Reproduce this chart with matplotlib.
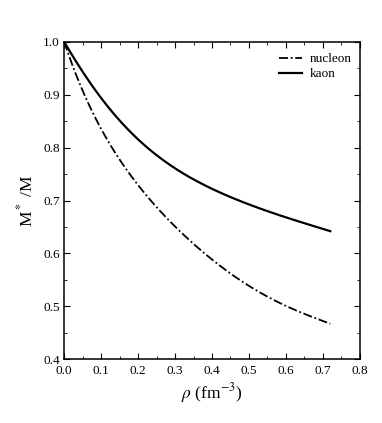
import numpy as np
import matplotlib
matplotlib.use("Agg")
import matplotlib.pyplot as plt
from matplotlib.ticker import MultipleLocator

plt.rcParams['font.family'] = ['Liberation Serif', 'DejaVu Serif']
plt.rcParams['mathtext.fontset'] = 'stix'

# density (fm^-3) and effective mass ratios
rho = [0.0, 0.05, 0.1, 0.15, 0.2, 0.25, 0.3, 0.35, 0.4, 0.45, 0.5, 0.55, 0.6, 0.65, 0.72]
kaon = [1.0, 0.944, 0.893, 0.852, 0.815, 0.786, 0.761, 0.740, 0.722, 0.706, 0.693, 0.680, 0.668, 0.657, 0.642]
nucleon = [1.0, 0.908, 0.835, 0.778, 0.728, 0.688, 0.651, 0.618, 0.589, 0.561, 0.538, 0.519, 0.501, 0.485, 0.467]

x_ticks = [0.0, 0.1, 0.2, 0.3, 0.4, 0.5, 0.6, 0.7, 0.8]
y_ticks = [0.4, 0.5, 0.6, 0.7, 0.8, 0.9, 1.0]

fig = plt.figure(figsize=(3.82, 4.23), dpi=100)
ax = fig.add_axes([0.168, 0.151, 0.774, 0.750])

# smooth curves through the read points
xs = np.linspace(0, 0.72, 200)
def smooth(xp, yp):
    c = np.polyfit(xp, yp, 6)
    return np.polyval(c, xs)

ax.plot(xs, smooth(rho, nucleon), color='black', lw=1.3,
        dashes=(5, 1.5, 1, 1.5), label='nucleon')
ax.plot(xs, smooth(rho, kaon), color='black', lw=1.6, label='kaon')

ax.set_xlim(0, 0.8)
ax.set_ylim(0.4, 1.0)
ax.set_xticks(x_ticks)
ax.set_yticks(y_ticks)
ax.set_xticklabels(['%.1f' % v for v in x_ticks])
ax.set_yticklabels(['%.1f' % v for v in y_ticks])
ax.xaxis.set_minor_locator(MultipleLocator(0.05))
ax.yaxis.set_minor_locator(MultipleLocator(0.05))
ax.tick_params(which='both', direction='in', top=True, right=True, labelsize=9.5)
ax.tick_params(axis='x', pad=4)
ax.tick_params(axis='y', pad=3)
ax.tick_params(which='major', length=4, width=0.8)
ax.tick_params(which='minor', length=2, width=0.6)
for s in ax.spines.values():
    s.set_linewidth(1.1)

ax.set_xlabel(r'$\rho$ (fm$^{-3}$)', fontsize=12.5, labelpad=3)
ax.set_ylabel(r'M$^*$ /M', fontsize=12.5, labelpad=5)

ax.legend(loc='upper right', frameon=False, fontsize=9.5, handlelength=1.75,
          handletextpad=0.6, labelspacing=0.2, borderaxespad=0.45,
          bbox_to_anchor=(1.012, 1.0))

fig.savefig('out.png', dpi=100)
